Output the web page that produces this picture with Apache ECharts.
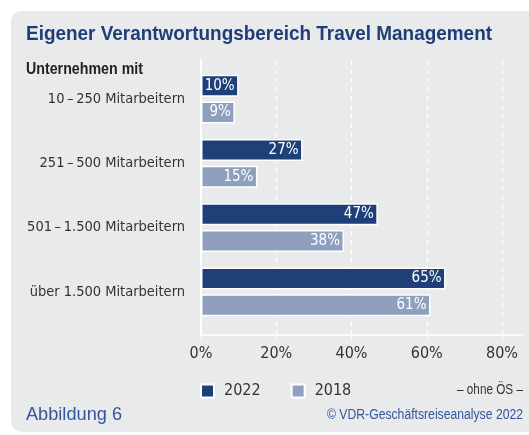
<!DOCTYPE html>
<html>
<head>
<meta charset="utf-8">
<script src="https://cdn.jsdelivr.net/npm/echarts@6/dist/echarts.min.js"></script>
<style>
  html, body { margin: 0; padding: 0; background: #fff; }
  #chart { width: 529px; height: 435px; }
</style>
</head>
<body>
<div id="chart"></div>
<script>
// Daten
const categories = ['10\u2009–\u2009250 Mitarbeitern', '251\u2009–\u2009500 Mitarbeitern', '501\u2009–\u20091.500 Mitarbeitern', 'über 1.500 Mitarbeitern']
const values2022 = [10, 27, 47, 65]
const values2018 = [9, 15, 38, 61]
const seriesNames = ['2022', '2018']
const xTicks = [0, 20, 40, 60, 80]

const NARROW = '"DejaVu Sans Condensed", sans-serif'
const REG = '"Liberation Sans", Arial, sans-serif'
const DARK = '#1e3f78'
const LIGHT = '#8ea0bd'

// schmale Schrift nachbilden: Text auf Zielbreite stauchen
const ctx = document.createElement('canvas').getContext('2d')
function squeezed (text, font, width, x, y, color, align) {
  ctx.font = font
  const w = ctx.measureText(text).width
  return {
    type: 'text',
    x: x,
    y: y,
    scaleX: width / w,
    style: { text: text, font: font, fill: color, align: align || 'left', verticalAlign: 'middle' }
  }
}

const chart = echarts.init(document.getElementById('chart'))

chart.setOption({
  animation: false,
  backgroundColor: '#fff',
  textStyle: { fontFamily: NARROW },
  graphic: [
    {
      type: 'rect',
      z: -10,
      shape: { x: 11, y: 11, width: 540, height: 421, r: [10, 0, 0, 10] },
      style: { fill: '#e9eaec' }
    },
    squeezed('Eigener Verantwortungsbereich Travel Management', 'bold 21px ' + REG, 466, 26, 34, '#1f3e78'),
    squeezed('Unternehmen mit', 'bold 17px ' + REG, 117, 26, 69, '#222'),
    squeezed('– ohne ÖS –', '15px ' + REG, 66, 523, 390, '#333', 'right'),
    squeezed('Abbildung 6', '18px ' + REG, 96, 26, 415, '#33559a'),
    squeezed('© VDR-Geschäftsreiseanalyse 2022', '14px ' + REG, 196, 523, 415, '#33559a', 'right')
  ],
  legend: {
    data: seriesNames,
    left: 200,
    top: 383,
    padding: 0,
    icon: 'rect',
    itemWidth: 13,
    itemHeight: 13,
    itemGap: 30,
    textStyle: { fontFamily: NARROW, fontSize: 16, color: '#333', padding: [0, 0, 0, 5] }
  },
  grid: [
    // Rahmen mit Gitterlinien
    { left: 201, right: 27, top: 60, bottom: 100 },
    // verlängerte Grundlinie
    { left: 201, right: 6, top: 60, bottom: 100 },
    // Balken
    { left: 201, right: 27, top: 67, bottom: 111 }
  ],
  xAxis: [
    {
      gridIndex: 0,
      type: 'value',
      min: xTicks[0],
      max: xTicks[xTicks.length - 1],
      interval: 20,
      axisLine: { show: false },
      axisTick: { show: true, length: 7, lineStyle: { color: '#fff', type: 'dashed' } },
      axisLabel: { formatter: '{value}%', fontSize: 16, color: '#333', margin: 11, fontFamily: NARROW },
      splitLine: { show: true, lineStyle: { color: '#fff', width: 1, type: [5, 4] } }
    },
    {
      gridIndex: 1,
      type: 'value',
      min: 0,
      max: 1,
      axisLine: { show: true, onZero: false, lineStyle: { color: '#fff', width: 1.5 } },
      axisTick: { show: false },
      axisLabel: { show: false },
      splitLine: { show: false }
    },
    {
      gridIndex: 2,
      type: 'value',
      min: xTicks[0],
      max: xTicks[xTicks.length - 1],
      show: false
    }
  ],
  yAxis: [
    {
      gridIndex: 0,
      type: 'value',
      min: 0,
      max: 1,
      axisLine: { show: true, lineStyle: { color: '#fff', width: 2 } },
      axisTick: { show: false },
      axisLabel: { show: false },
      splitLine: { show: false }
    },
    {
      gridIndex: 1,
      type: 'value',
      show: false
    },
    {
      gridIndex: 2,
      type: 'category',
      inverse: true,
      data: categories,
      axisLine: { show: false },
      axisTick: { show: false },
      axisLabel: { fontSize: 14.5, color: '#333', margin: 16, fontFamily: NARROW }
    }
  ],
  series: [
    {
      name: seriesNames[0],
      type: 'bar',
      xAxisIndex: 2,
      yAxisIndex: 2,
      data: values2022,
      barWidth: 22,
      barGap: '22%',
      itemStyle: { color: DARK, borderColor: '#fff', borderWidth: 1.5 },
      label: { show: true, position: 'insideRight', distance: 4, formatter: '{c}%', color: '#fff', fontSize: 15, fontFamily: NARROW }
    },
    {
      name: seriesNames[1],
      type: 'bar',
      xAxisIndex: 2,
      yAxisIndex: 2,
      data: values2018,
      barWidth: 22,
      itemStyle: { color: LIGHT, borderColor: '#fff', borderWidth: 1.5 },
      label: { show: true, position: 'insideRight', distance: 4, formatter: '{c}%', color: '#fff', fontSize: 15, fontFamily: NARROW }
    }
  ]
})
</script>
</body>
</html>
